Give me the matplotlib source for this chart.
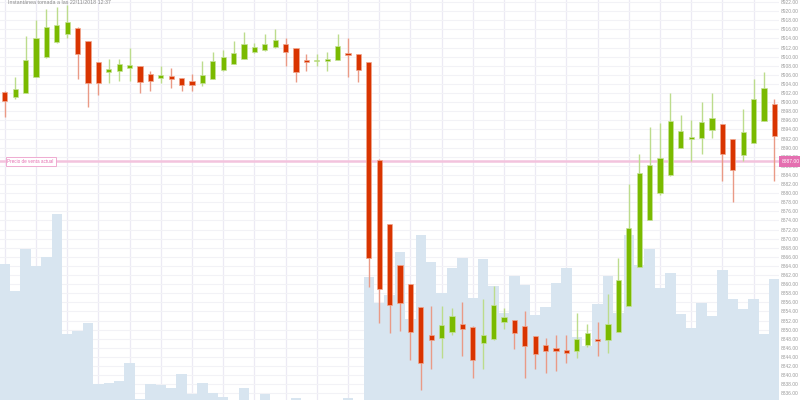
import matplotlib
matplotlib.use("Agg")
import matplotlib.pyplot as plt
import matplotlib.transforms as mtransforms
import numpy as np

# ---------------- data ----------------
opens = [8902.3, 8901.2, 8902.0, 8905.6, 8909.85, 8913.15, 8915.0, 8916.35, 8913.5, 8908.9,
         8906.55, 8906.9, 8907.5, 8907.9, 8906.2, 8905.4, 8905.7, 8905.3, 8904.65, 8904.2,
         8905.1, 8907.0, 8908.45, 8909.55, 8911.0, 8911.5, 8912.1, 8912.85, 8912.0, 8909.3,
         8909.0, 8909.1, 8909.25, 8910.85, 8910.6, 8908.9, 8887.35, 8873.15, 8864.2, 8860.1,
         8854.9, 8848.75, 8848.2, 8849.55, 8851.3, 8850.65, 8847.05, 8847.85, 8851.6, 8852.1,
         8850.8, 8848.6, 8846.55, 8845.9, 8845.5, 8845.3, 8846.6, 8848.0, 8847.7, 8849.5,
         8855.2, 8863.75, 8874.1, 8880.1, 8883.9, 8889.95, 8891.8, 8892.1, 8893.85, 8895.1,
         8891.8, 8888.45, 8891.1, 8895.85, 8899.6]
highs = [8902.5, 8905.45, 8914.5, 8918.0, 8920.5, 8921.0, 8921.4, 8916.4, 8913.5, 8908.9,
         8909.5, 8909.5, 8912.0, 8907.9, 8906.9, 8907.9, 8907.4, 8905.3, 8906.1, 8909.0,
         8911.0, 8911.45, 8913.5, 8915.5, 8913.0, 8915.0, 8916.0, 8914.1, 8912.0, 8910.6,
         8910.6, 8911.0, 8915.0, 8914.1, 8910.6, 8908.9, 8887.4, 8873.2, 8864.2, 8860.1,
         8854.9, 8855.2, 8855.2, 8854.75, 8856.1, 8850.7, 8856.7, 8859.6, 8854.7, 8852.1,
         8854.1, 8848.6, 8848.15, 8848.75, 8848.75, 8853.6, 8851.2, 8851.6, 8857.75, 8865.7,
         8882.0, 8888.5, 8894.45, 8895.5, 8902.05, 8897.15, 8896.05, 8900.0, 8902.05, 8895.1,
         8891.8, 8898.55, 8905.1, 8906.55, 8900.6]
lows = [8896.7, 8900.6, 8901.9, 8905.5, 8909.7, 8913.0, 8914.15, 8905.1, 8899.0, 8901.6,
        8904.1, 8904.6, 8904.6, 8902.1, 8902.5, 8904.1, 8903.1, 8902.5, 8902.5, 8903.5,
        8905.0, 8906.9, 8908.4, 8909.5, 8910.9, 8911.3, 8912.0, 8908.0, 8904.5, 8906.9,
        8908.0, 8906.9, 8909.2, 8905.5, 8904.5, 8859.3, 8851.4, 8849.2, 8849.7, 8843.3,
        8836.7, 8841.3, 8843.75, 8848.8, 8844.25, 8839.3, 8841.3, 8847.8, 8850.2, 8845.8,
        8839.3, 8841.3, 8840.4, 8840.85, 8842.7, 8843.8, 8846.25, 8844.25, 8844.8, 8849.4,
        8855.1, 8863.7, 8874.0, 8879.65, 8883.8, 8889.9, 8887.1, 8888.6, 8892.1, 8882.65,
        8878.1, 8887.1, 8891.0, 8895.8, 8882.7]
closes = [8900.2, 8902.8, 8909.2, 8914.15, 8916.5, 8916.9, 8917.7, 8910.6, 8904.2, 8904.2,
          8907.2, 8908.3, 8908.15, 8904.5, 8904.65, 8906.0, 8905.0, 8903.8, 8903.8, 8906.0,
          8909.0, 8909.9, 8910.7, 8912.7, 8912.2, 8912.7, 8913.65, 8910.95, 8906.7, 8908.8,
          8909.3, 8909.3, 8912.4, 8910.35, 8907.15, 8865.8, 8858.85, 8855.4, 8855.9, 8849.55,
          8842.6, 8847.7, 8850.95, 8853.0, 8850.05, 8843.4, 8848.75, 8855.35, 8852.8, 8849.25,
          8846.4, 8844.65, 8845.3, 8845.2, 8844.9, 8847.85, 8849.2, 8847.5, 8851.2, 8860.9,
          8872.25, 8884.35, 8886.1, 8887.65, 8895.85, 8893.7, 8892.4, 8895.55, 8896.45, 8888.5,
          8885.1, 8893.5, 8900.7, 8903.05, 8892.55]
volumes = [136, 109, 151, 134, 143, 186, 66, 69, 77, 16,
           17, 19, 37, 1, 16, 15, 12, 26, 6, 17,
           7, 3, 0, 12, 0, 6, 0, 0, 2, 0,
           0, 0, 0, 2, 0, 123, 97, 105, 148, 81,
           165, 138, 107, 132, 142, 102, 141, 114, 87, 124,
           115, 85, 93, 117, 132, 63, 54, 96, 124, 87,
           165, 135, 151, 112, 127, 86, 72, 97, 84, 130,
           101, 91, 101, 66, 121]
current_price = 8887.00
price_ticks = list(range(8836, 8923, 2))
snapshot_text = "Instantánea tomada a las 22/11/2018 12:37"
current_label = "Precio de venta actual"

# ---------------- style ----------------
GREEN = "#7aba00"
GREEN_W = "#bcdc8c"
RED = "#d93400"
RED_W = "#ea9a86"
VOL = "#d8e5f0"
PINK = "#e46fb0"
PINK_LINE = "#f3c3dd"
FONT = "Liberation Sans"

n = len(opens)
x = np.arange(n)

fig = plt.figure(figsize=(8, 4), dpi=100)
rect = [0, 0, 779 / 800, 1]
xlim = (-0.452, 74.45)
ylim = (8834.53, 8922.44)

# base axes: grid + tick labels
ax_base = fig.add_axes(rect)
ax_base.set_xlim(xlim)
ax_base.set_ylim(ylim)
for s in ax_base.spines.values():
    s.set_visible(False)
ax_base.set_xticks(x[::3])
ax_base.set_yticks(price_ticks)
ax_base.set_yticklabels([f"{t:.2f}" for t in price_ticks], family=FONT)
ax_base.yaxis.tick_right()
ax_base.tick_params(axis="y", length=0, pad=1.5, labelsize=3.5, labelcolor="#9a9a9a")
ax_base.tick_params(axis="x", length=0, labelbottom=False)
ax_base.grid(axis="y", color="#f2f2f6", linewidth=0.8)
ax_base.grid(axis="x", color="#eceaf4", linewidth=0.9)
ax_base.set_axisbelow(True)

# volume axes
ax_vol = fig.add_axes(rect, sharex=ax_base)
ax_vol.patch.set_alpha(0)
ax_vol.set_ylim(0, 400)
ax_vol.bar(x, volumes, width=1.0, color=VOL, linewidth=0)
ax_vol.axis("off")

# candles axes
ax = fig.add_axes(rect, sharex=ax_base)
ax.patch.set_alpha(0)
ax.set_ylim(ylim)
ax.axis("off")

o = np.array(opens); c = np.array(closes); h = np.array(highs); l = np.array(lows)
up = c >= o
ax.vlines(x[up], l[up], h[up], color=GREEN_W, linewidth=1.0, zorder=2)
ax.vlines(x[~up], l[~up], h[~up], color=RED_W, linewidth=1.0, zorder=2)
bottoms = np.minimum(o, c)
heights = np.maximum(np.abs(c - o), 0.35)
ax.bar(x[up], heights[up], bottom=bottoms[up], width=0.5, color=GREEN,
       edgecolor="#c6e29a", linewidth=0.5, zorder=3)
ax.bar(x[~up], heights[~up], bottom=bottoms[~up], width=0.5, color=RED,
       edgecolor="#f0a890", linewidth=0.5, zorder=3)

# current price line and labels
ax.axhline(current_price, color=PINK_LINE, linewidth=1.8, zorder=1.5)
trans = mtransforms.blended_transform_factory(ax.transAxes, ax.transData)
ax.text(1.003, current_price, f"{current_price:.2f}", transform=trans, ha="left", va="center",
        fontsize=3.6, family=FONT, color="white", clip_on=False, zorder=5,
        bbox=dict(boxstyle="square,pad=0.55", fc=PINK, ec="none"))
ax.text(0.0095, current_price, current_label, transform=trans, ha="left", va="center",
        fontsize=3.3, family=FONT, color=PINK, zorder=5,
        bbox=dict(boxstyle="square,pad=0.4", fc="white", ec="#ee9fcb", lw=0.6))

fig.text(8 / 800, 1 - 0.3 / 400, snapshot_text, ha="left", va="top", fontsize=3.8,
         family=FONT, color="#8a8a8a")

fig.savefig("out.png", dpi=100)
